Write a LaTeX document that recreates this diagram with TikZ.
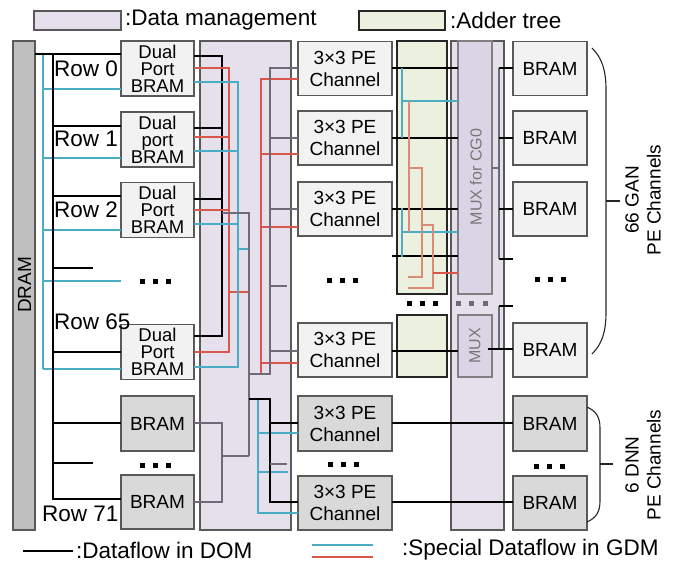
\documentclass[tikz,border=0pt]{standalone}
\usepackage{fontspec}
\setmainfont{Liberation Sans}
\definecolor{lav}{HTML}{E6E0EC}
\definecolor{lavd}{HTML}{DAD5E6}
\definecolor{addg}{HTML}{EBF1DE}
\definecolor{boxf}{HTML}{F2F2F2}
\definecolor{boxd}{HTML}{D9D9D9}
\definecolor{dramf}{HTML}{BFBFBF}
\definecolor{bordc}{HTML}{595959}
\definecolor{wblue}{HTML}{4BACC6}
\definecolor{wred}{HTML}{D9574A}
\definecolor{wsalmon}{HTML}{DA8C76}
\definecolor{wgray}{HTML}{6E6A78}
\definecolor{muxt}{HTML}{767676}
\newcommand\mydotrow[4][black]{%
  \foreach \k in {0,1,2}{\fill[#1] ({#2+\k*#3-2.5},{#4-2.5}) rectangle ++(5,5);}}
\begin{document}
\begin{tikzpicture}[x=1pt,y=-1pt,
  box/.style={draw=bordc, fill=boxf, line width=1.3pt, inner sep=0pt, outer sep=0pt, align=center, font=\fontsize{18.5}{17.2}\selectfont},
  dbox/.style={box, fill=boxd},
  pebox/.style={box, font=\fontsize{19}{22}\selectfont},
  dpebox/.style={pebox, fill=boxd},
  region/.style={draw=bordc, fill=lav, line width=1.2pt, inner sep=0pt, outer sep=0pt},
  adder/.style={draw=black!85, fill=addg, line width=1.2pt, inner sep=0pt, outer sep=0pt},
  mux/.style={draw=gray, fill=lavd, line width=1.2pt, inner sep=0pt, outer sep=0pt},
  muxtext/.style={rotate=90, text=muxt, font=\fontsize{16}{16}\selectfont, inner sep=0pt},
  rowlbl/.style={anchor=west, inner sep=0pt, font=\fontsize{22.5}{24}\selectfont},
  lgtext/.style={anchor=west, inner sep=0pt, font=\fontsize{22.5}{24}\selectfont},
  bracelbl/.style={rotate=90, align=center, font=\fontsize{19}{22}\selectfont},
  wire/.style={line width=1.2pt},
  bk/.style={wire, draw=black},
  bl/.style={wire, draw=wblue},
  rd/.style={wire, draw=wred},
  sm/.style={wire, draw=wsalmon},
  gy/.style={wire, draw=wgray},
  brc/.style={line width=1.1pt, draw=black!85}
]
\useasboundingbox (0,0) rectangle (673,563);

% ---------- legend top ----------
\node[region, minimum width=87pt, minimum height=19pt] (lg1) at (77.5,20.5) {};
\node[lgtext] (lg1t) at (125,20.5) {:Data management};
\node[adder, minimum width=86pt, minimum height=19pt] (lg2) at (402,20.5) {};
\node[lgtext] (lg2t) at (450,20.5) {:Adder tree};

% ---------- background regions ----------
\node[region, minimum width=91pt, minimum height=489pt] (dm1) at (245.5,285.5) {};
\node[region, minimum width=53pt, minimum height=489pt] (dm2) at (477.5,285.5) {};
\node[adder, minimum width=50pt, minimum height=253pt] (ad1) at (422,167.5) {};
\node[adder, minimum width=50pt, minimum height=62pt] (ad2) at (422,346) {};
\node[mux, minimum width=34pt, minimum height=253pt] (mx1) at (475,167.5) {};
\node[mux, minimum width=34pt, minimum height=62pt] (mx2) at (475,346) {};
\node[muxtext] (mx1t) at (476,177) {MUX for CG0};
\node[muxtext] (mx2t) at (475,346) {MUX};

% ---------- DRAM ----------
\node[draw=bordc, fill=dramf, line width=1.3pt, inner sep=0pt, outer sep=0pt, minimum width=22pt, minimum height=489pt] (dram) at (24,285.5) {};
\node[rotate=90, inner sep=0pt, font=\fontsize{19}{19}\selectfont] (dramt) at (24.5,285) {DRAM};

% ---------- boxes ----------
\node[box, minimum width=73pt, minimum height=55pt] (b0) at (157.5,68.5) {Dual\\Port\\BRAM};
\node[box, minimum width=73pt, minimum height=55pt] (b1) at (157.5,139.5) {Dual\\port\\BRAM};
\node[box, minimum width=73pt, minimum height=55pt] (b2) at (157.5,210) {Dual\\Port\\BRAM};
\node[box, minimum width=73pt, minimum height=55pt] (b65) at (157.5,352) {Dual\\Port\\BRAM};
\node[dbox, minimum width=73pt, minimum height=55pt, font=\fontsize{19}{19}\selectfont] (d1) at (157.5,423.5) {BRAM};
\node[dbox, minimum width=73pt, minimum height=54pt, font=\fontsize{19}{19}\selectfont] (d2) at (157.5,502) {BRAM};

\node[pebox, minimum width=94pt, minimum height=54pt] (p0) at (345,68.5) {3×3 PE\\Channel};
\node[pebox, minimum width=94pt, minimum height=54pt] (p1) at (345,138) {3×3 PE\\Channel};
\node[pebox, minimum width=94pt, minimum height=54pt] (p2) at (345,209) {3×3 PE\\Channel};
\node[pebox, minimum width=94pt, minimum height=54pt] (p65) at (345,350) {3×3 PE\\Channel};
\node[dpebox, minimum width=94pt, minimum height=55pt] (pd1) at (345,423.5) {3×3 PE\\Channel};
\node[dpebox, minimum width=94pt, minimum height=54pt] (pd2) at (345,503) {3×3 PE\\Channel};

\node[box, minimum width=74pt, minimum height=54pt, font=\fontsize{19}{19}\selectfont] (r0) at (550,68.5) {BRAM};
\node[box, minimum width=74pt, minimum height=54pt, font=\fontsize{19}{19}\selectfont] (r1) at (550,138) {BRAM};
\node[box, minimum width=74pt, minimum height=54pt, font=\fontsize{19}{19}\selectfont] (r2) at (550,209) {BRAM};
\node[box, minimum width=74pt, minimum height=54pt, font=\fontsize{19}{19}\selectfont] (r65) at (550,350) {BRAM};
\node[dbox, minimum width=74pt, minimum height=55pt, font=\fontsize{19}{19}\selectfont] (rd1) at (550,423.5) {BRAM};
\node[dbox, minimum width=74pt, minimum height=54pt, font=\fontsize{19}{19}\selectfont] (rd2) at (550,503) {BRAM};

% ---------- row labels ----------
\node[rowlbl] (l0) at (54,68.5) {Row 0};
\node[rowlbl] (l1) at (54,138.5) {Row 1};
\node[rowlbl] (l2) at (54,210) {Row 2};
\node[rowlbl] (l65) at (54,322) {Row 65};
\node[rowlbl] (l71) at (42,513.5) {Row 71};

% ---------- left bus ----------
\draw[bl] (43,54) -- (43,369);
\draw[bl] (43,89) -- (b0.west|-0,89);
\draw[bl] (43,158) -- (b1.west|-0,158);
\draw[bl] (43,230) -- (b2.west|-0,230);
\draw[bl] (43,281) -- (121,281);
\draw[bl] (43,369) -- (b65.west|-0,369);
\draw[bk] (dram.east|-0,54) -- (b0.west|-0,54);
\draw[bk] (53,54) -- (53,499) -- (d2.west|-0,499);
\draw[bk] (53,126) -- (b1.west|-0,126);
\draw[bk] (53,196) -- (b2.west|-0,196);
\draw[bk] (53,268) -- (93,268);
\draw[bk] (53,352) -- (b65.west|-0,352);
\draw[bk] (53,423) -- (d1.west|-0,423);
\draw[bk] (53,463) -- (93,463);

% ---------- data management 1 ----------
\draw[bk] (b0.east|-0,56) -- (222,56) -- (222,336) -- (b65.east|-0,336);
\draw[bk] (b1.east|-0,128) -- (222,128);
\draw[bk] (b2.east|-0,199) -- (222,199);
\draw[rd] (b0.east|-0,68) -- (229,68) -- (229,352) -- (b65.east|-0,352);
\draw[rd] (b1.east|-0,137) -- (229,137);
\draw[rd] (b2.east|-0,210) -- (229,210);
\draw[rd] (229,292) -- (249,292);
\draw[bl] (b0.east|-0,82) -- (238,82) -- (238,367) -- (b65.east|-0,367);
\draw[bl] (b1.east|-0,151) -- (238,151);
\draw[bl] (b2.east|-0,224) -- (238,224);
\draw[bl] (238,249) -- (249,249);
\draw[gy] (222,213) -- (249,213) -- (249,456);
\draw[gy] (d1.east|-0,423) -- (222,423) -- (222,502) -- (d2.east|-0,502);
\draw[gy] (222,456) -- (249,456);

\draw[rd] (261,374) -- (261,79) -- (p0.west|-0,79);
\draw[rd] (261,154) -- (p1.west|-0,154);
\draw[rd] (261,227) -- (p2.west|-0,227);
\draw[rd] (261,363) -- (p65.west|-0,363);
\draw[gy] (249,374) -- (270,374) -- (270,68) -- (p0.west|-0,68);
\draw[gy] (270,138) -- (p1.west|-0,138);
\draw[gy] (270,209) -- (p2.west|-0,209);
\draw[gy] (270,286) -- (287,286);
\draw[gy] (270,351) -- (p65.west|-0,351);

\draw[bl] (258,399) -- (258,513) -- (pd2.west|-0,513);
\draw[bl] (258,433) -- (pd1.west|-0,433);
\draw[bl] (258,472) -- (288,472);
\draw[bk] (249,399) -- (270,399) -- (270,502) -- (pd2.west|-0,502);
\draw[bk] (270,423) -- (pd1.west|-0,423);
\draw[gy] (270,464) -- (287,464);

% ---------- adder tree ----------
\draw[bk] (p0.east|-0,68) -- (mx1.west|-0,68);
\draw[bk] (p1.east|-0,138) -- (mx1.west|-0,138);
\draw[bk] (p2.east|-0,209) -- (mx1.west|-0,209);
\draw[bk] (392,256) -- (mx1.west|-0,256);
\draw[bk] (p65.east|-0,351) -- (mx2.west|-0,351);
\draw[bk] (pd1.east|-0,423) -- (rd1.west|-0,423);
\draw[bk] (pd2.east|-0,502) -- (rd2.west|-0,502);
\draw[bl] (402,68) -- (402,138);
\draw[bl] (402,101) -- (mx1.west|-0,101);
\draw[bl] (402,208) -- (402,257);
\draw[bl] (402,232) -- (mx1.west|-0,232);
\draw[sm] (409,101) -- (409,232);
\draw[sm] (409,168) -- (422,168) -- (422,277) -- (408,277);
\draw[sm] (422,225) -- (433,225) -- (433,288) -- (408,288);
\draw[rd] (433,273) -- (mx1.west|-0,273);

% ---------- MUX outputs ----------
\draw[gy] (mx1.east|-0,168) -- (499,168);
\draw[gy] (499,68) -- (499,259);
\draw[bk] (499,68) -- (r0.west|-0,68);
\draw[bk] (499,138) -- (r1.west|-0,138);
\draw[bk] (499,209) -- (r2.west|-0,209);
\draw[bk] (499,259) -- (513,259);
\draw[gy] (499,306) -- (499,349);
\draw[bk] (499,306) -- (513,306);
\draw[bk] (488,349) -- (r65.west|-0,349);

% ---------- dots ----------
\mydotrow{142}{13}{281}
\mydotrow{329}{13}{280}
\mydotrow{537}{13}{279}
\mydotrow{409}{13}{303}
\mydotrow[wgray]{458}{13.5}{303}
\mydotrow{142}{13}{465}
\mydotrow{330}{13}{464}
\mydotrow{536}{13}{466}

% ---------- braces ----------
\draw[brc] (592,48) .. controls (602,58) and (606,70) .. (606,90) -- (606,312) .. controls (606,332) and (602,344) .. (592,354);
\coordinate (gtip) at (606,201);
\draw[brc] (gtip) -- ++(14,0);
\draw[brc] (587,407) .. controls (596,411) and (600,417) .. (600,428) -- (600,501) .. controls (600,512) and (596,518) .. (587,522);
\coordinate (dtip) at (600,464);
\draw[brc] (dtip) -- ++(13,0);
\node[bracelbl] (gan) at (643,200) {66 GAN\\PE Channels};
\node[bracelbl] (dnn) at (643,465) {6 DNN\\PE Channels};

% ---------- legend bottom ----------
\coordinate (lk1) at (23,551);
\coordinate (lk2) at (73,551);
\draw[bk] (lk1) -- (lk2);
\node[lgtext] (lkt) at (76,550) {:Dataflow in DOM};
\coordinate (lb1) at (312,545);
\coordinate (lb2) at (373,545);
\coordinate (lr1) at (312,557);
\coordinate (lr2) at (373,557);
\draw[bl] (lb1) -- (lb2);
\draw[rd] (lr1) -- (lr2);
\node[lgtext] (lst) at (402,550) {:Special Dataflow in GDM};
\end{tikzpicture}
\end{document}
